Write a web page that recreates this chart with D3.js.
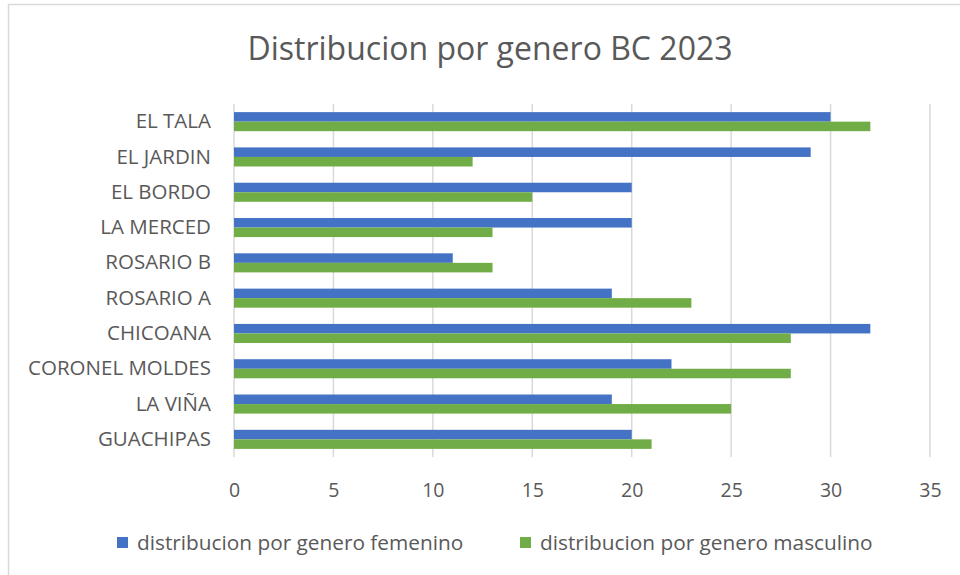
<!DOCTYPE html>
<html><head><meta charset="utf-8">
<script src="https://cdn.jsdelivr.net/npm/d3@7"></script>
<style>body{margin:0;background:#fff}svg{display:block}text{font-family:"Open Sans",Lato,sans-serif;fill:#595959}</style>
</head><body><svg id="c" width="960" height="575"></svg>
<script>
const title = "Distribucion por genero BC 2023";
const categories = ["EL TALA","EL JARDIN","EL BORDO","LA MERCED","ROSARIO B","ROSARIO A","CHICOANA","CORONEL MOLDES","LA VIÑA","GUACHIPAS"];
const femenino = [30,29,20,20,11,19,32,22,19,20];
const masculino = [32,12,15,13,13,23,28,28,25,21];
const seriesNames = ["distribucion por genero femenino","distribucion por genero masculino"];
const xTicks = [0,5,10,15,20,25,30,35];
const colors = ["#4472C4","#70AD47"];

const svg = d3.select("#c");
svg.append("path").attr("d","M8.5,575 L8.5,4.5 L960,4.5").attr("fill","none").attr("stroke","#d9d9d9").attr("stroke-width",1.5);

const m = {l:234, r:930, t:104, b:457};
const x = d3.scaleLinear().domain([0,35]).range([m.l,m.r]);
const y = d3.scaleBand().domain(categories).range([m.t,m.b]).paddingInner(0.46).paddingOuter(0.23);
const sub = d3.scaleBand().domain([0,1]).range([0,y.bandwidth()]);

svg.append("text").attr("x",490).attr("y",60).attr("text-anchor","middle").style("font-size","32px").text(title);

svg.append("g").selectAll("line").data(xTicks).join("line")
  .attr("x1",d=>x(d)).attr("x2",d=>x(d)).attr("y1",m.t).attr("y2",m.b)
  .attr("stroke","#d9d9d9").attr("stroke-width",1.5);

const data = categories.map((c,i)=>({c, v:[femenino[i],masculino[i]]}));
const g = svg.append("g");
[0,1].forEach(s=>{
  g.selectAll(".b"+s).data(data).join("rect").attr("class","b"+s)
    .attr("x",x(0)).attr("y",d=>y(d.c)+sub(s))
    .attr("width",d=>x(d.v[s])-x(0)).attr("height",sub.bandwidth())
    .attr("fill",colors[s]);
});

const xa = svg.append("g").attr("transform",`translate(0,${m.b})`)
  .call(d3.axisBottom(x).tickValues(xTicks).tickSize(0).tickPadding(26));
xa.select(".domain").remove();
xa.selectAll("text").style("font-size","19.5px").attr("fill","#595959");
const ya = svg.append("g").attr("transform",`translate(${m.l},0)`)
  .call(d3.axisLeft(y).tickSize(0).tickPadding(23));
ya.select(".domain").remove();
ya.selectAll("text").style("font-size","20.5px").attr("fill","#595959");

const lx = [117,520];
seriesNames.forEach((n,i)=>{
  svg.append("rect").attr("x",lx[i]).attr("y",537).attr("width",11).attr("height",11).attr("fill",colors[i]);
  svg.append("text").attr("x",lx[i]+20).attr("y",550).style("font-size","20.8px").text(n);
});
</script></body></html>
